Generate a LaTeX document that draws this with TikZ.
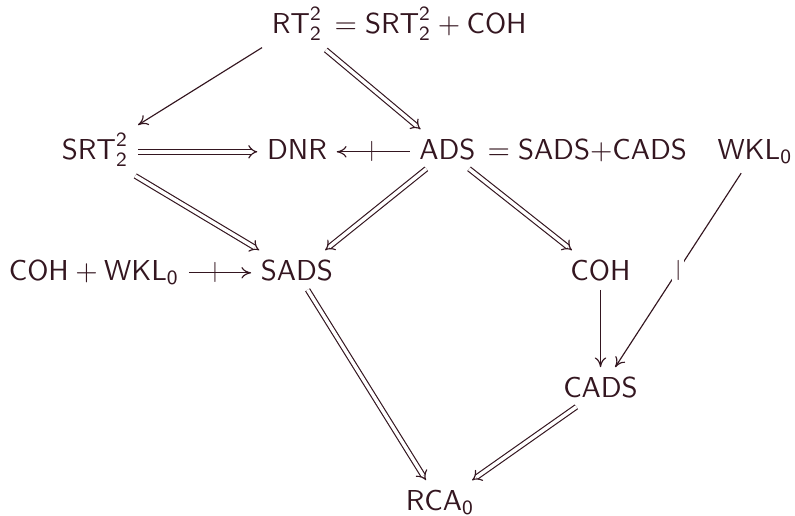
\documentclass[tikz,border=0pt]{standalone}
\usepackage{tikz-cd}
\usetikzlibrary{arrows.meta}
\definecolor{ink}{RGB}{52,22,32}
\tikzset{
  obj/.style={shape=asymmetrical rectangle, inner sep=3.2pt, text=ink, anchor=base},
  tail/.style={inner sep=0pt, text=ink, anchor=base west},
  onearrow/.style={draw=ink, line width=0.4pt, -{Computer Modern Rightarrow[length=3.4pt, width=4pt]}},
  dblarrow/.style={draw=ink, line width=0.4pt, double=white, double distance=1.2pt, -{Implies}},
  barmark/.style={text=ink, inner sep=0pt, anchor=center},
}
\begin{document}
\begin{tikzpicture}[x=0.347pt, y=-0.347pt]
  \useasboundingbox (0,0) rectangle (795,515);
  % objects
  \node[obj] (rt)     at (297,33)  {$\mathsf{RT}^{\mathsf{2}}_{\mathsf{2}}$};
  \node[tail] (rteq)  at (334,33)  {$\mathord{=}\;\mathsf{SRT}^{\mathsf{2}}_{\mathsf{2}}+\mathsf{COH}$};
  \node[obj] (srt)    at (95,159)  {$\mathsf{SRT}^{\mathsf{2}}_{\mathsf{2}}$};
  \node[obj] (dnr)    at (297,159) {$\mathsf{DNR}$};
  \node[obj] (ads)    at (447.5,159) {$\mathsf{ADS}$};
  \node[tail] (adseq) at (487,159) {$\mathord{=}\;\mathsf{SADS}{+}\mathsf{CADS}$};
  \node[obj] (wkl)    at (755,159) {$\mathsf{WKL}_{\mathsf{0}}$};
  \node[obj] (cohwkl) at (94,280)  {$\mathsf{COH}+\mathsf{WKL}_{\mathsf{0}}$};
  \node[obj] (sads)   at (297,280) {$\mathsf{SADS}$};
  \node[obj] (coh)    at (600.5,280) {$\mathsf{COH}$};
  \node[obj] (cads)   at (600.5,397) {$\mathsf{CADS}$};
  \node[obj] (rca)    at (440,510) {$\mathsf{RCA}_{\mathsf{0}}$};
  % implications
  \draw[onearrow] (rt) -- (srt);
  \draw[dblarrow] (rt) -- (ads);
  \draw[dblarrow] (srt) -- (dnr);
  \draw[onearrow] (ads) -- node[barmark, pos=0.52] (nb1) {$\scriptstyle|$} (dnr);
  \draw[dblarrow] (srt) -- (sads);
  \draw[dblarrow] (ads) -- (sads);
  \draw[dblarrow] (ads) -- (coh);
  \draw[onearrow] (cohwkl) -- node[barmark, pos=0.42] (nb2) {$\scriptstyle|$} (sads);
  \draw[onearrow] (wkl) -- node[barmark, fill=white, inner sep=0.8pt] (nb3) {$\scriptstyle|$} (cads);
  \draw[onearrow] (coh) -- (cads);
  \draw[dblarrow] (sads) -- (rca);
  \draw[dblarrow] (cads) -- (rca);
\end{tikzpicture}
\end{document}
